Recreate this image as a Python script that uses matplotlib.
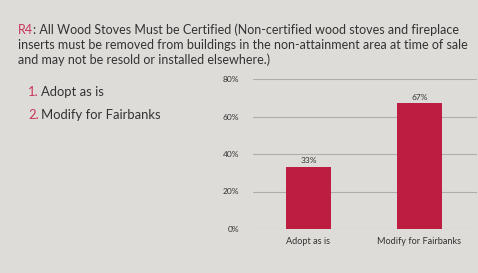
import matplotlib.pyplot as plt

categories = ['Adopt as is', 'Modify for Fairbanks']
values = [33, 67]
value_labels = ['33%', '67%']
yticks = [0, 20, 40, 60, 80]
ytick_labels = ['0%', '20%', '40%', '60%', '80%']

title_red = 'R4'
title_rest = (': All Wood Stoves Must be Certified (Non-certified wood stoves and fireplace\n'
              'inserts must be removed from buildings in the non-attainment area at time of sale\n'
              'and may not be resold or installed elsewhere.)')
options = ['Adopt as is', 'Modify for Fairbanks']

W, H = 478, 273
bg = '#dedcd8'
red = '#bd1d40'
txt = '#333333'

fig = plt.figure(figsize=(W / 100, H / 100), dpi=100, facecolor=bg)
plt.rcParams['font.family'] = ['Lato', 'DejaVu Sans']

# plot area: x 253..477, y 79 (80%) .. 229 (0%)
ax = fig.add_axes([253 / W, 1 - 229 / H, 224 / W, 150 / H])
ax.set_facecolor('none')
x = range(len(categories))
ax.bar(x, values, width=0.4, color=red, zorder=3)
for xi, v, lab in zip(x, values, value_labels):
    ax.text(xi, v + 1.5, lab, ha='center', va='bottom', fontsize=6, color=txt)
ax.set_xlim(-0.5, 1.52)
ax.set_ylim(0, 80)
ax.set_yticks(yticks)
ax.set_yticklabels(ytick_labels, fontsize=6, color=txt)
ax.set_xticks(list(x))
ax.set_xticklabels(categories, fontsize=6.6, color=txt)
ax.yaxis.grid(True, color='#b0aeaa', linewidth=0.8, zorder=0)
ax.tick_params(length=0, pad=10)
ax.tick_params(axis='x', pad=6)
for s in ax.spines.values():
    s.set_visible(False)
ax.set_axisbelow(True)

fs = 9.0
# title with red prefix
t = fig.text(18 / W, 1 - 30 / H, title_red, fontsize=fs, color='#c8365a', va='center', ha='left')
fig.canvas.draw()
bb = t.get_window_extent()
fig.text(bb.x1 / W, 1 - 30 / H, title_rest.split('\n')[0], fontsize=fs, color=txt, va='center', ha='left')
for i, line in enumerate(title_rest.split('\n')[1:]):
    fig.text(18 / W, 1 - (45 + 15 * i) / H, line, fontsize=fs, color=txt, va='center', ha='left')

for i, opt in enumerate(options):
    y = 1 - (92 + 23 * i) / H
    n = fig.text(28 / W, y, f'{i + 1}.', fontsize=9.4, color='#c8365a', va='center', ha='left')
    fig.canvas.draw()
    nb = n.get_window_extent()
    fig.text(nb.x1 / W + 2 / W, y, opt, fontsize=9.4, color=txt, va='center', ha='left')

fig.savefig('out.png', dpi=100, facecolor=bg)
